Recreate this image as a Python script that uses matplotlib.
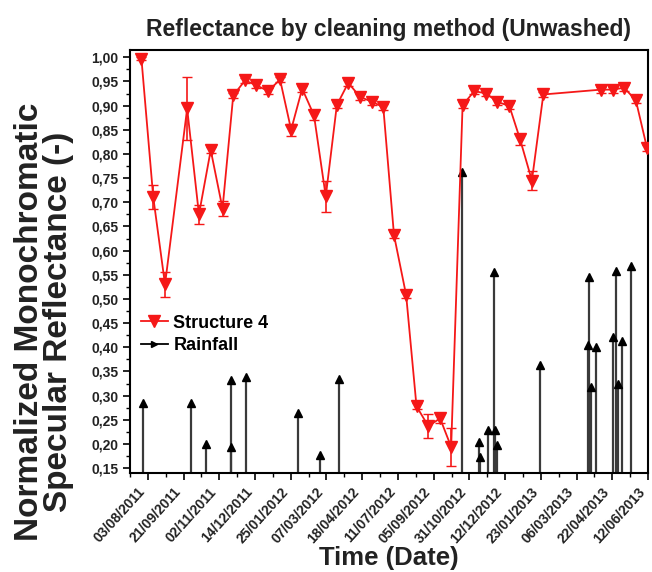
import numpy as np
import matplotlib
matplotlib.use("Agg")
import matplotlib.pyplot as plt
from matplotlib.lines import Line2D
from matplotlib.ticker import FuncFormatter, MultipleLocator

plt.rcParams["font.family"] = ["Liberation Sans", "DejaVu Sans"]
plt.rcParams["font.weight"] = "bold"

# tick labels (evenly spaced on the axis)
date_labels = ["03/08/2011", "21/09/2011", "02/11/2011", "14/12/2011", "25/01/2012",
               "07/03/2012", "18/04/2012", "11/07/2012", "05/09/2012", "31/10/2012",
               "12/12/2012", "23/01/2013", "06/03/2013", "22/04/2013", "12/06/2013"]

# Structure 4 reflectance (x in tick-label units)
refl_x = [-0.18, 0.15, 0.48, 1.10, 1.43, 1.76, 2.09, 2.39, 2.72, 3.04,
          3.37, 3.70, 4.01, 4.32, 4.65, 4.98, 5.29, 5.61, 5.94, 6.27,
          6.59, 6.89, 7.23, 7.52, 7.85, 8.18, 8.49, 8.81, 9.14, 9.47,
          9.78, 10.12, 10.42, 10.75, 11.07, 12.68, 13.02, 13.33, 13.66, 13.97]
refl_y = [0.997, 0.711, 0.530, 0.894, 0.675, 0.808, 0.687, 0.921, 0.952, 0.942,
          0.930, 0.954, 0.850, 0.935, 0.880, 0.712, 0.901, 0.947, 0.918, 0.908,
          0.897, 0.632, 0.508, 0.278, 0.237, 0.253, 0.194, 0.901, 0.930, 0.925,
          0.908, 0.899, 0.830, 0.745, 0.923, 0.933, 0.933, 0.937, 0.911, 0.813]
refl_err = [0.003, 0.024, 0.025, 0.065, 0.020, 0.006, 0.015, 0.006, 0.006, 0.006,
            0.006, 0.006, 0.012, 0.006, 0.010, 0.032, 0.006, 0.006, 0.006, 0.006,
            0.006, 0.006, 0.006, 0.006, 0.025, 0.010, 0.040, 0.006, 0.006, 0.006,
            0.006, 0.006, 0.012, 0.020, 0.006, 0.006, 0.006, 0.006, 0.006, 0.006]

# rainfall events
rain_x = [-0.13, 1.22, 1.64, 2.32, 2.32, 2.75, 4.21, 4.82, 5.35, 8.79,
          9.27, 9.30, 9.52, 9.69, 9.72, 9.77, 10.98, 12.31, 12.36, 12.41,
          12.54, 13.03, 13.11, 13.15, 13.27, 13.52]
rain_y = [0.284, 0.285, 0.201, 0.194, 0.333, 0.338, 0.264, 0.177, 0.335, 0.762,
          0.205, 0.173, 0.229, 0.555, 0.229, 0.198, 0.363, 0.404, 0.546, 0.318,
          0.401, 0.421, 0.558, 0.325, 0.413, 0.568]

red = "#f51818"

fig = plt.figure(figsize=(6.52, 5.72), dpi=100)
ax = fig.add_axes([130 / 652, 1 - 473 / 572, 518 / 652, 423 / 572])

ax.vlines(rain_x, 0, rain_y, color="#3a3a3a", lw=1.6, zorder=1)
ax.plot(rain_x, rain_y, ls="none", marker="^", ms=6, color="black", zorder=2)

ax.errorbar(refl_x, refl_y, yerr=refl_err, color=red, lw=1.3, marker="v", ms=9,
            mfc=red, mec=red, ecolor=red, elinewidth=1.2, capsize=3.5, zorder=3)

ax.set_xlim(-0.5, 14)
ax.set_ylim(0.14, 1.015)
ax.set_xticks(range(len(date_labels)))
ax.set_xticklabels(date_labels, rotation=48, ha="right", fontsize=9.5, fontweight="bold")
ax.xaxis.set_minor_locator(MultipleLocator(0.5))
ax.set_yticks(np.arange(0.15, 1.001, 0.05))
ax.yaxis.set_major_formatter(FuncFormatter(lambda v, p: f"{v:.2f}".replace(".", ",")))
ax.yaxis.set_minor_locator(MultipleLocator(0.025))
ax.tick_params(axis="both", which="major", direction="out", length=5, width=1.2,
               labelsize=10, labelcolor="#222222")
ax.tick_params(axis="both", which="minor", direction="out", length=3, width=1)
for s in ax.spines.values():
    s.set_linewidth(1.5)

ax.set_title("Reflectance by cleaning method (Unwashed)", fontsize=16.5,
             fontweight="bold", pad=10, color="#222222")
ax.set_xlabel("Time (Date)", fontsize=18.5, fontweight="bold", labelpad=0, color="#222222")
ax.set_ylabel("Normalized Monochromatic\nSpecular Reflectance (-)", fontsize=24,
              fontweight="bold", linespacing=0.9, color="#222222")
ax.yaxis.set_label_coords(-0.108, 0.357)

handles = [Line2D([0], [0], color=red, lw=1.3, marker="v", ms=9, mfc=red, mec=red),
           Line2D([0], [0], color="black", lw=1.3, marker=">", ms=5)]
ax.legend(handles, ["Structure 4", "Rainfall"], loc="upper left",
          bbox_to_anchor=(0.0, 0.40), frameon=False, fontsize=13, handlelength=1.5,
          handletextpad=0.3, labelspacing=0.3, borderaxespad=0.2)

fig.savefig("out.png", dpi=100)
